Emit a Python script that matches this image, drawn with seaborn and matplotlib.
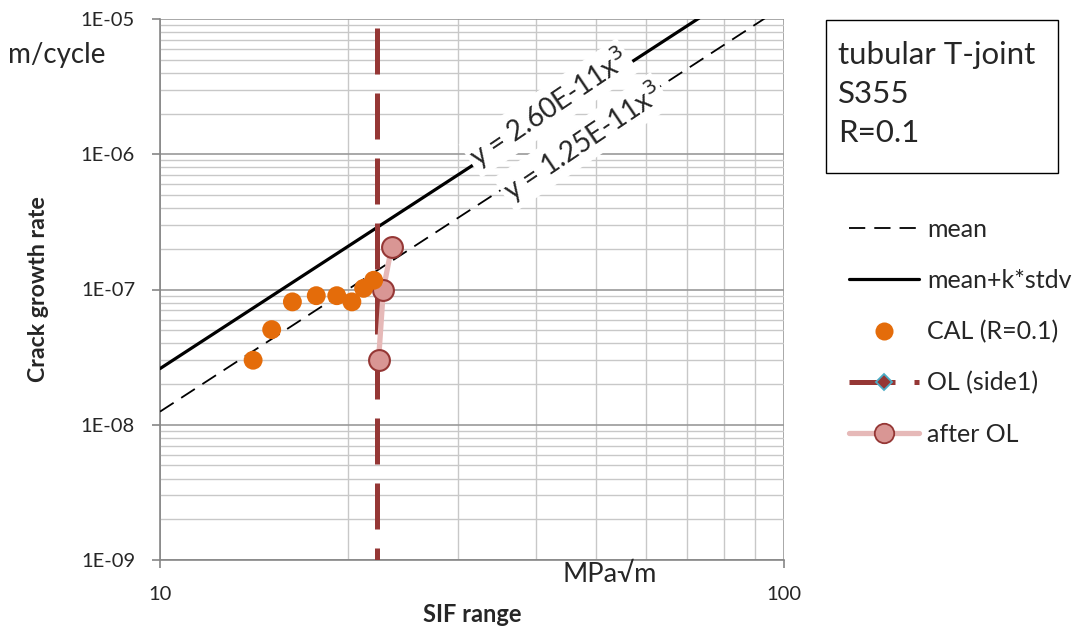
import numpy as np
import pandas as pd
import seaborn as sns
import matplotlib
matplotlib.use("Agg")
import matplotlib.pyplot as plt
from matplotlib.lines import Line2D
from matplotlib.patches import Rectangle
from matplotlib.ticker import LogLocator, NullFormatter, FixedLocator, FixedFormatter

# constant-amplitude loading test points
cal_sif = [14.1, 15.1, 16.3, 17.8, 19.2, 20.3, 21.2, 22.0]
cal_rate = [3.0e-8, 5.05e-8, 8.1e-8, 9.0e-8, 9.0e-8, 8.1e-8, 1.02e-7, 1.17e-7]

# overload position (side 1)
ol_sif = [22.3, 22.3]
ol_rate = [8.6e-6, 1e-9]

# points measured after the overload
after_sif = [22.4, 22.8, 23.5]
after_rate = [3.0e-8, 1.0e-7, 2.05e-7]

# Paris-law curves  da/dN = C * dK^3
c_mean = 1.25e-11
c_upper = 2.60e-11
m_exp = 3
sif_curve = [10, 100]

sns.set_theme(style="white")
plt.rcParams["font.family"] = ["Lato", "DejaVu Sans"]

fig = plt.figure(figsize=(10.74, 6.27), dpi=100)
ax = fig.add_axes([160 / 1074, 1 - 560 / 627, 624 / 1074, 541 / 627])

curve = pd.DataFrame({
    "sif": sif_curve,
    "mean": [c_mean * k ** m_exp for k in sif_curve],
    "upper": [c_upper * k ** m_exp for k in sif_curve],
})

MEAN_DASH = (9, 5)
OL_LW = 3.6
OL_DASH = (9.2, 3.8)

sns.lineplot(data=curve, x="sif", y="mean", ax=ax, color="black", lw=1.3,
             zorder=3).lines[-1].set_dashes(MEAN_DASH)
sns.lineplot(data=curve, x="sif", y="upper", ax=ax, color="black", lw=2.3, zorder=3)

sns.lineplot(x=ol_sif, y=ol_rate, ax=ax, color="#953735", lw=OL_LW,
             estimator=None, sort=False, zorder=4).lines[-1].set_dashes(OL_DASH)

sns.lineplot(x=after_sif, y=after_rate, ax=ax, color="#E6B9B8", lw=3.8,
             estimator=None, sort=False, zorder=5)
ax.plot(after_sif, after_rate, ls="none", marker="o", ms=15,
        mfc="#D99694", mec="#953735", mew=1.5, zorder=6)

sns.scatterplot(x=cal_sif, y=cal_rate, ax=ax, color="#E46C0A", s=185,
                edgecolor="none", zorder=7)

ax.set_xscale("log")
ax.set_yscale("log")
ax.set_xlim(10, 100)
ax.set_ylim(1e-9, 1e-5)

# ticks and gridlines
yt = [1e-9, 1e-8, 1e-7, 1e-6, 1e-5]
ax.yaxis.set_major_locator(FixedLocator(yt))
ax.yaxis.set_major_formatter(FixedFormatter(["1E-09", "1E-08", "1E-07", "1E-06", "1E-05"]))
ax.yaxis.set_minor_locator(LogLocator(base=10, subs=np.arange(2, 10), numticks=20))
ax.yaxis.set_minor_formatter(NullFormatter())
ax.xaxis.set_major_locator(FixedLocator([10, 100]))
ax.xaxis.set_major_formatter(FixedFormatter(["10", "100"]))
ax.xaxis.set_minor_locator(FixedLocator([20, 30, 40, 50, 60, 70, 80, 90]))
ax.xaxis.set_minor_formatter(NullFormatter())

ax.grid(True, which="major", color="#9A9A9A", lw=1.2)
ax.grid(True, which="minor", color="#C8C8C8", lw=1.0)
ax.set_axisbelow(True)

for s in ["top", "right"]:
    ax.spines[s].set_visible(False)
for s in ["left", "bottom"]:
    ax.spines[s].set_color("#868686")
    ax.spines[s].set_linewidth(1.2)

ax.tick_params(axis="y", which="major", left=True, length=6, width=1.2,
               color="#868686", labelsize=14.5, pad=12)
ax.tick_params(axis="x", which="major", bottom=True, length=6, width=1.2,
               color="#868686", labelsize=14.5, pad=13)
ax.tick_params(which="minor", length=0)

ax.set_xlabel("SIF range", fontsize=17, fontweight="bold")
ax.set_ylabel("Crack growth rate", fontsize=16.7, fontweight="bold")
ax.xaxis.set_label_coords(0.5, -(603 - 560) / 541)
ax.yaxis.set_label_coords((49 - 160) / 624, 0.5)

# equation labels along the curves
box = dict(facecolor="white", edgecolor="none", pad=2)
ax.text(42.0, 2.2e-6, "y = 2.60E-11x$^3$", fontsize=20, rotation=34,
        ha="center", va="center", bbox=box, zorder=8)
ax.text(47.6, 1.23e-6, "y = 1.25E-11x$^3$", fontsize=20, rotation=34,
        ha="center", va="center", bbox=box, zorder=8)

# units
fig.text(8 / 1074, 1 - 55 / 627, "m/cycle", fontsize=20, va="center", ha="left")
fig.text(610 / 1074, 1 - 575 / 627, "MPa√m", fontsize=19.5, va="center", ha="center")

# specimen info box
fig.patches.append(Rectangle((826 / 1074, 1 - 173 / 627), 232 / 1074, 153 / 627,
                             transform=fig.transFigure, facecolor="white",
                             edgecolor="black", lw=1.0))
for i, t in enumerate(["tubular T-joint", "S355", "R=0.1"]):
    fig.text(838 / 1074, 1 - (55 + 39 * i) / 627, t, fontsize=22.5,
             va="center", ha="left")

# legend
handles = [
    Line2D([], [], color="black", lw=1.3, dashes=MEAN_DASH),
    Line2D([], [], color="black", lw=2.3),
    Line2D([], [], ls="none", marker="o", ms=13, mfc="#E46C0A", mec="none"),
    Line2D([], [], color="#953735", lw=OL_LW, dashes=OL_DASH, marker="D", ms=8,
           mfc="#953735", mec="#4BACC6", mew=1.3),
    Line2D([], [], color="#E6B9B8", lw=3.8, marker="o", ms=14,
           mfc="#D99694", mec="#953735", mew=1.3),
]
labels = ["mean", "mean+k*stdv", "CAL (R=0.1)", "OL (side1)", "after OL"]
fig.legend(handles, labels, loc="upper left", bbox_to_anchor=(849 / 1074, 1 - 218 / 627),
           frameon=False, fontsize=18, handlelength=2.8, handletextpad=0.32,
           labelspacing=1.12, borderpad=0, borderaxespad=0)

fig.savefig("out.png", dpi=100)
